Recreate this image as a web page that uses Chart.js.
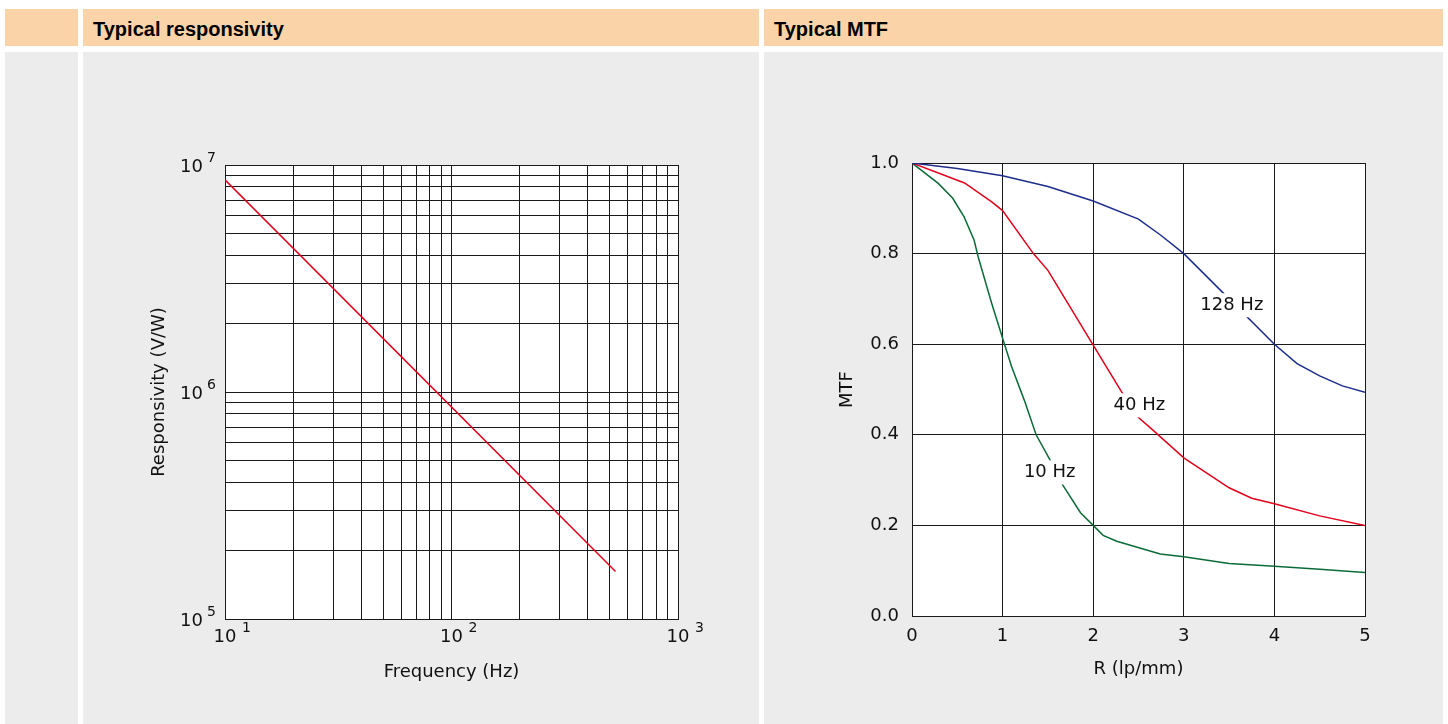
<!DOCTYPE html>
<html>
<head>
<meta charset="utf-8">
<script src="https://cdn.jsdelivr.net/npm/chart.js@4"></script>
<style>
  body { margin: 0; background: #fff; width: 1448px; height: 724px; overflow: hidden; position: relative; font-family: "Liberation Sans", Arial, sans-serif; }
  .head { position: absolute; top: 9px; height: 37px; background: #fbd3a8; }
  .head span { position: absolute; left: 10px; top: 9px; font-weight: bold; font-size: 20px; color: #000; }
  .body { position: absolute; top: 52px; height: 672px; background: #ebeceb; }
  canvas { position: absolute; }
</style>
</head>
<body>
<div class="head" style="left:5px;width:73px"></div>
<div class="head" style="left:83px;width:676px"><span>Typical responsivity</span></div>
<div class="head" style="left:764px;width:679px"><span>Typical MTF</span></div>
<div class="body" style="left:5px;width:73px"></div>
<div class="body" style="left:83px;width:676px"><canvas id="resp" width="676" height="672"></canvas></div>
<div class="body" style="left:764px;width:679px"><canvas id="mtf" width="679" height="672"></canvas></div>
<script>
// responsivity vs frequency (log-log)
const freq = [10, 530]
const responsivity = [8.6e6, 1.62e5]
const freqTicks = [10, 20, 30, 40, 50, 60, 70, 80, 90, 100, 200, 300, 400, 500, 600, 700, 800, 900, 1000]
const respTicks = [1e5, 2e5, 3e5, 4e5, 5e5, 6e5, 7e5, 8e5, 9e5, 1e6, 2e6, 3e6, 4e6, 5e6, 6e6, 7e6, 8e6, 9e6, 1e7]
const freqDecades = [10, 100, 1000]
const respDecades = [1e5, 1e6, 1e7]

// MTF curves
const r128 = [0, 0.5, 1, 1.5, 2, 2.5, 2.75, 3, 3.5, 4, 4.25, 4.5, 4.75, 5]
const mtf128 = [1.0, 0.988, 0.972, 0.948, 0.916, 0.876, 0.84, 0.80, 0.70, 0.60, 0.557, 0.53, 0.508, 0.494]
const r40 = [0, 0.58, 0.88, 1, 1.34, 1.5, 2, 2.31, 2.5, 2.65, 3, 3.5, 3.75, 4, 4.5, 5]
const mtf40 = [1.0, 0.956, 0.914, 0.895, 0.80, 0.763, 0.598, 0.496, 0.438, 0.412, 0.349, 0.283, 0.26, 0.248, 0.221, 0.2]
const r10 = [0, 0.29, 0.45, 0.575, 0.685, 0.73, 0.88, 1, 1.1, 1.24, 1.37, 1.52, 1.67, 1.86, 2, 2.11, 2.26, 2.74, 3, 3.5, 4, 4.5, 5]
const mtf10 = [1.0, 0.955, 0.922, 0.881, 0.83, 0.793, 0.69, 0.613, 0.55, 0.476, 0.40, 0.346, 0.287, 0.228, 0.2, 0.178, 0.165, 0.137, 0.131, 0.116, 0.11, 0.103, 0.096]
const curveLabels = ['128 Hz', '40 Hz', '10 Hz']
const labelAt = [[3.53, 0.686], [2.51, 0.465], [1.52, 0.317]]

const FONT = '"DejaVu Sans", sans-serif'
const GRID = '#1a1a1a'

function pts(xs, ys) {
    return xs.map((x, i) => ({x: x, y: ys[i]}))
}

const whiteArea = {
    id: 'whiteArea',
    beforeDraw(chart) {
        const {ctx, chartArea: a} = chart
        ctx.save()
        ctx.fillStyle = '#fff'
        ctx.fillRect(a.left, a.top, a.right - a.left, a.bottom - a.top)
        ctx.restore()
    }
}

// decade labels like 10^7 with a raised exponent
const powerLabels = {
    id: 'powerLabels',
    afterDraw(chart) {
        const ctx = chart.ctx
        const xs = chart.scales.x, ys = chart.scales.y
        ctx.save()
        ctx.fillStyle = '#111'
        ctx.textBaseline = 'middle'
        freqDecades.forEach(v => {
            const px = xs.getPixelForValue(v)
            const py = xs.top + 18
            ctx.font = '18px ' + FONT
            ctx.textAlign = 'center'
            ctx.fillText('10', px, py)
            ctx.font = '14px ' + FONT
            ctx.textAlign = 'left'
            ctx.fillText(String(Math.round(Math.log10(v))), px + 17, py - 9)
        })
        respDecades.forEach(v => {
            const py = ys.getPixelForValue(v)
            const px = ys.right - 22
            ctx.font = '18px ' + FONT
            ctx.textAlign = 'right'
            ctx.fillText('10', px, py + 2)
            ctx.font = '14px ' + FONT
            ctx.textAlign = 'left'
            ctx.fillText(String(Math.round(Math.log10(v))), px + 4, py - 7)
        })
        ctx.restore()
    }
}

new Chart(document.getElementById('resp'), {
    type: 'scatter',
    data: {
        datasets: [{
            data: pts(freq, responsivity),
            showLine: true,
            borderColor: '#e2001a',
            borderWidth: 1.5,
            pointRadius: 0
        }]
    },
    options: {
        responsive: false,
        animation: false,
        events: [],
        layout: {padding: {left: 66, top: 113, right: 81, bottom: 41}},
        plugins: {legend: {display: false}, tooltip: {enabled: false}},
        scales: {
            x: {
                type: 'logarithmic', min: 10, max: 1000,
                afterBuildTicks: s => { s.ticks = freqTicks.map(v => ({value: v})) },
                afterFit: s => { s.height = 64 },
                grid: {color: GRID, lineWidth: 1, drawTicks: false},
                border: {color: GRID, width: 1},
                ticks: {display: false, autoSkip: false},
                title: {display: true, text: 'Frequency (Hz)', color: '#111', padding: 0, font: {family: FONT, size: 18}}
            },
            y: {
                type: 'logarithmic', min: 1e5, max: 1e7,
                afterBuildTicks: s => { s.ticks = respTicks.map(v => ({value: v})) },
                afterFit: s => { s.width = 76 },
                grid: {color: GRID, lineWidth: 1, drawTicks: false},
                border: {color: GRID, width: 1},
                ticks: {display: false, autoSkip: false},
                title: {display: true, text: 'Responsivity (V/W)', color: '#111', padding: 0, font: {family: FONT, size: 18}}
            }
        }
    },
    plugins: [whiteArea, powerLabels]
})

// curve names on a white patch that breaks the line
const curveNames = {
    id: 'curveNames',
    afterDatasetsDraw(chart) {
        const ctx = chart.ctx
        ctx.save()
        ctx.font = '18px ' + FONT
        ctx.textAlign = 'center'
        ctx.textBaseline = 'middle'
        curveLabels.forEach((t, i) => {
            const px = chart.scales.x.getPixelForValue(labelAt[i][0])
            const py = chart.scales.y.getPixelForValue(labelAt[i][1])
            const w = ctx.measureText(t).width
            ctx.fillStyle = '#fff'
            ctx.fillRect(px - w / 2 - 5, py - 12, w + 10, 24)
            ctx.fillStyle = '#111'
            ctx.fillText(t, px, py)
        })
        ctx.restore()
    }
}

new Chart(document.getElementById('mtf'), {
    type: 'scatter',
    data: {
        datasets: [
            {data: pts(r128, mtf128), borderColor: '#1d2d8a'},
            {data: pts(r40, mtf40), borderColor: '#e2001a'},
            {data: pts(r10, mtf10), borderColor: '#0b6b38'}
        ].map(d => Object.assign(d, {showLine: true, borderWidth: 1.5, pointRadius: 0}))
    },
    options: {
        responsive: false,
        animation: false,
        events: [],
        layout: {padding: {left: 73, top: 111, right: 78, bottom: 44}},
        plugins: {legend: {display: false}, tooltip: {enabled: false}},
        scales: {
            x: {
                type: 'linear', min: 0, max: 5,
                afterFit: s => { s.height = 64 },
                grid: {color: GRID, lineWidth: 1, drawTicks: false},
                border: {color: GRID, width: 1},
                ticks: {stepSize: 1, padding: 10, color: '#111', font: {family: FONT, size: 18}},
                title: {display: true, text: 'R (lp/mm)', color: '#111', padding: 0, font: {family: FONT, size: 18}}
            },
            y: {
                type: 'linear', min: 0, max: 1,
                afterFit: s => { s.width = 75 },
                grid: {color: GRID, lineWidth: 1, drawTicks: false},
                border: {color: GRID, width: 1},
                ticks: {stepSize: 0.2, padding: 13, color: '#111', font: {family: FONT, size: 18},
                    callback: v => v.toFixed(1)},
                title: {display: true, text: 'MTF', color: '#111', padding: 0, font: {family: FONT, size: 18}}
            }
        }
    },
    plugins: [whiteArea, curveNames]
})
</script>
</body>
</html>
